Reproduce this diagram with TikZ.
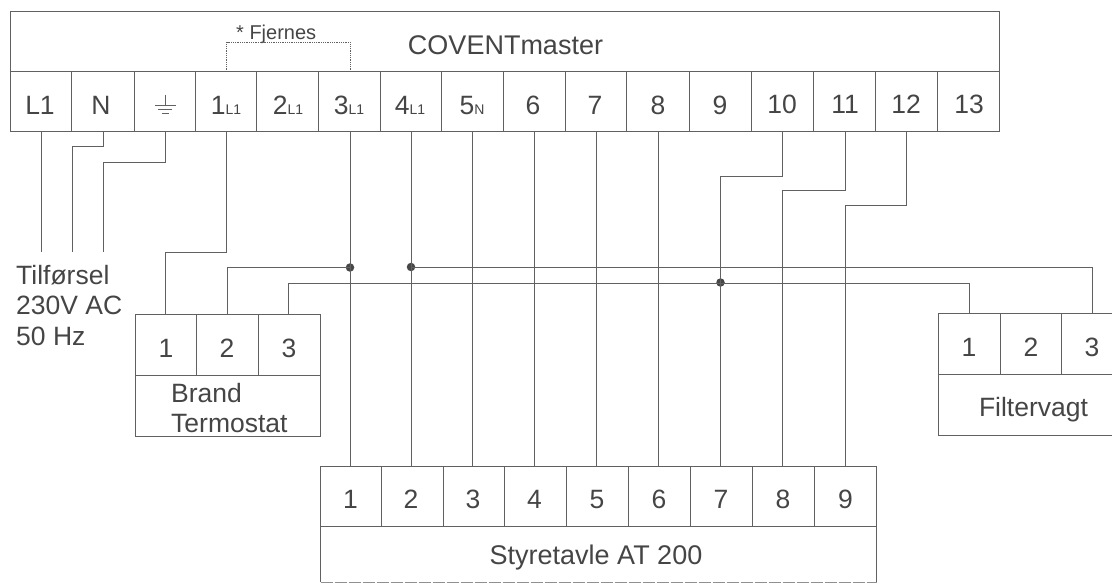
\documentclass[tikz,border=0pt]{standalone}
\usepackage{fontspec}
\setmainfont{Liberation Sans}
\definecolor{ink}{gray}{0.38}
\definecolor{txt}{gray}{0.27}
\newcommand{\fs}[1]{\fontsize{#1}{#1}\selectfont}
\newcommand{\sub}[2]{#1{\fs{14}#2}}
\tikzset{
  wire/.style={draw=ink,line width=0.8pt},
  frame/.style={draw=ink,line width=1pt},
  big/.style={text=txt,font=\fs{26.5},inner sep=0pt,anchor=base},
  plain/.style={text=txt,font=\fs{26.5},inner sep=0pt,anchor=base west},
  joint/.style={circle,fill=black!72,inner sep=0pt,minimum size=8.5pt},
}
\begin{document}
\begin{tikzpicture}[x=1pt,y=-1pt]
\useasboundingbox (0,0) rectangle (1112,583);
% COVENTmaster box
\draw[frame] (10,12) rectangle (999.5,132);
\draw[frame] (10,72) -- (999.5,72);
\foreach \x in {71.8,134,195.7,256.8,318.6,380,441.8,502.9,565.3,626.5,688.9,751.5,813,875.8,937}
  \draw[wire] (\x,72) -- (\x,132);
\node[big,font=\fs{27}] (title) at (505.5,54.5) {COVENTmaster};
\node[plain,font=\fs{20}] (fj) at (236,39.5) {* Fjernes};
\node[big] (tL) at (40,115) {L1};
\node[big] (tN) at (101,115) {N};
\node[big] (t1) at (226,115) {\sub{1}{L1}};
\node[big] (t2) at (288,115) {\sub{2}{L1}};
\node[big] (t3) at (349,115) {\sub{3}{L1}};
\node[big] (t4) at (410,115) {\sub{4}{L1}};
\node[big] (t5) at (472,115) {\sub{5}{N}};
\node[big] (t6) at (533,115) {6};
\node[big] (t7) at (595,115) {7};
\node[big] (t8) at (658,115) {8};
\node[big] (t9) at (720,115) {9};
\node[big] (t10) at (782,114) {10};
\node[big] (t11) at (845,114) {11};
\node[big] (t12) at (906,114) {12};
\node[big] (t13) at (969,114) {13};
% ground symbol
\draw[wire] (165,95) -- (165,105);
\draw[wire] (155,105) -- (175.5,105);
\draw[wire] (158,109) -- (172,109);
\draw[wire] (162,113) -- (169,113);
% jumper
\draw[ink,line width=0.8pt,densely dotted] (226.5,72) -- (226.5,42.5) -- (350,42.5) -- (350,72);
% Brand box
\draw[frame] (135,314) rectangle (320,436);
\draw[frame] (135,375.5) -- (320,375.5);
\draw[wire] (196.8,314) -- (196.8,375.5);
\draw[wire] (258,314) -- (258,375.5);
\node[big] (b1) at (166,357) {1};
\node[big] (b2) at (227,357) {2};
\node[big] (b3) at (289,357) {3};
\node[plain] (brand) at (171,402.5) {Brand};
\node[plain] (term) at (171,432) {Termostat};
% Filter box
\draw[frame] (1112,313) -- (938,313) -- (938,435) -- (1112,435);
\draw[frame] (938,374.5) -- (1112,374.5);
\draw[wire] (1000,313) -- (1000,374.5);
\draw[wire] (1061.5,313) -- (1061.5,374.5);
\node[big] (f1) at (969,356) {1};
\node[big] (f2) at (1031,356) {2};
\node[big] (f3) at (1092,356) {3};
\node[big] (filt) at (1033.5,416) {Filtervagt};
% Styretavle box
\draw[frame] (320.5,582) -- (320.5,466.5) -- (876.5,466.5) -- (876.5,582);
\draw[ink!70,line width=0.7pt,dash pattern=on 12pt off 2pt] (320.5,582) -- (876.5,582);
\draw[frame] (320.5,526) -- (876.5,526);
\foreach \x in {381,443,504,566.3,628,690.6,752.6,814.6}
  \draw[wire] (\x,466.5) -- (\x,526);
\node[big] (s1) at (350.5,508) {1};
\node[big] (s2) at (411,508) {2};
\node[big] (s3) at (473,508) {3};
\node[big] (s4) at (534.5,508) {4};
\node[big] (s5) at (597,508) {5};
\node[big] (s6) at (659,508) {6};
\node[big] (s7) at (721,508) {7};
\node[big] (s8) at (783,508) {8};
\node[big] (s9) at (845.5,508) {9};
\node[big,font=\fs{27}] (styre) at (596,564.5) {Styretavle AT 200};
% supply label
\node[plain] (sup1) at (16,284) {Tilførsel};
\node[plain] (sup2) at (16,314) {230V AC};
\node[plain] (sup3) at (16,345) {50 Hz};
% connector anchors
\coordinate (aL) at (41,132);
\coordinate (aN) at (103.6,132);
\coordinate (aG) at (165,132);
\coordinate (a1) at (226.8,132);
\coordinate (a3) at (350,132);
\coordinate (a4) at (411,132);
\coordinate (a5) at (472.5,132);
\coordinate (a6) at (534,132);
\coordinate (a7) at (596,132);
\coordinate (a8) at (658,132);
\coordinate (a10) at (782.5,132);
\coordinate (a11) at (845,132);
\coordinate (a12) at (906.5,132);
\coordinate (eL) at (41,252);
\coordinate (eN) at (72,252);
\coordinate (eG) at (103.6,252);
\coordinate (bp1) at (165.4,314);
\coordinate (bp2) at (227.5,314);
\coordinate (bp3) at (288,314);
\coordinate (fp1) at (969,313);
\coordinate (fp3) at (1092.4,313);
\coordinate (sp1) at (350,466.5);
\coordinate (sp2) at (411,466.5);
\coordinate (sp3) at (472.5,466.5);
\coordinate (sp4) at (534,466.5);
\coordinate (sp5) at (596,466.5);
\coordinate (sp6) at (658,466.5);
\coordinate (sp7) at (720.5,466.5);
\coordinate (sp8) at (782.5,466.5);
\coordinate (sp9) at (845,466.5);
\node[joint] (j3) at (350,267.5) {};
\node[joint] (j4) at (411,267) {};
\node[joint] (j7) at (720.5,282.5) {};
% connectors
\draw[wire] (aL) -- (eL);
\draw[wire] (aN) -- (103.6,146.7) -- (72,146.7) -- (eN);
\draw[wire] (aG) -- (165,162.7) -- (103.6,162.7) -- (eG);
\draw[wire] (a1) -- (226.8,252.3) -- (165.4,252.3) -- (bp1);
\draw[wire] (bp2) -- (227.5,267.5) -- (j3.center);
\draw[wire] (a3) -- (sp1);
\draw[wire] (a4) -- (sp2);
\draw[wire] (j4.center) -- (1092.4,267) -- (fp3);
\draw[wire] (bp3) -- (288,283) -- (969,283) -- (fp1);
\draw[wire] (a5) -- (sp3);
\draw[wire] (a6) -- (sp4);
\draw[wire] (a7) -- (sp5);
\draw[wire] (a8) -- (sp6);
\draw[wire] (a10) -- (782.5,176) -- (720.5,176) -- (sp7);
\draw[wire] (a11) -- (845,190.7) -- (782.5,190.7) -- (sp8);
\draw[wire] (a12) -- (906.5,205.7) -- (845,205.7) -- (sp9);
\end{tikzpicture}
\end{document}
